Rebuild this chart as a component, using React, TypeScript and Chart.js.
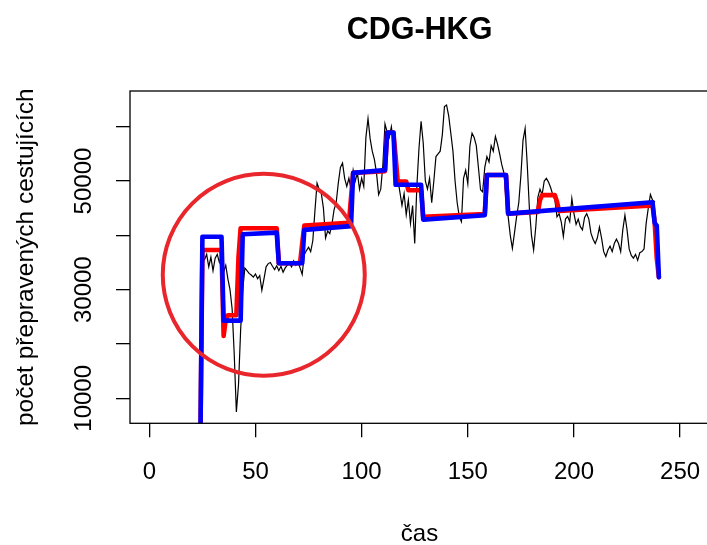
import React, { useEffect, useRef } from 'react';
import { Chart, registerables } from 'chart.js';

Chart.register(...registerables);

const chartTitle = 'CDG-HKG';
const xAxisTitle = 'čas';
const yAxisTitle = 'počet přepravených cestujících';

const xTickValues = [0, 50, 100, 150, 200, 250];
const yTickValues = [10000, 20000, 30000, 40000, 50000, 60000];
const yTickLabels = ['10000', '', '30000', '', '50000', ''];

const xMin = -9.1;
const xMax = 263.6;
const yMin = 5398;
const yMax = 66572;

// observed passengers (black), one value per time step starting at observedStart
const observedStart = 25;
const observed = [
  36000, 35500, 36500, 34200, 36000, 33500, 35800, 36500, 35000, 36400,
  33300, 34500, 32000, 30000, 26500, 18000, 7500, 12500, 22500, 30000,
  34000, 33500, 33000, 32700, 32300, 32900, 32000, 32600, 29900, 32000,
  34200, 34800, 35000, 34300, 33700, 34400, 33500, 34300, 33200, 34000,
  34500, 34800, 34200, 35300, 34500, 35200, 34000, 32800, 36500, 37200,
  37800, 37000, 39000, 44500, 49600, 48500, 47700, 45000, 39500, 40800,
  40300, 42000, 44700, 46000, 49600, 52500, 53300, 50500, 49000, 50500,
  48500, 52000, 50000, 51500, 48500, 50500, 49000, 58000, 61500, 57800,
  55500, 54000, 51500, 47500, 48500, 53000, 60500, 59000, 58000, 60000,
  57000, 54000, 50500, 48000, 45500, 47700, 43800, 46500, 42200, 45500,
  38500, 49000, 56000, 61000, 57000, 50000, 48500, 50500, 46000, 50000,
  54500, 55000, 55500, 58500, 63700, 64000, 62000, 58800, 55500, 50000,
  46000, 43400, 42500, 50500, 52000, 49500, 56500, 58800, 58000, 56500,
  52500, 48400, 48000, 52500, 54500, 53500, 56500, 55500, 58200, 56800,
  55000, 53000, 51500, 47000, 43500, 40000, 37600, 40500, 43500, 46000,
  51000, 57500, 59700, 53000, 45000, 40000, 37300, 41500, 47000, 48500,
  47500, 50000, 50500, 49800, 48800, 47500, 46500, 43400, 44000, 42500,
  39800, 43000, 43500, 42500, 46800, 44000, 42000, 43000, 41600, 41000,
  43300, 44000, 43000, 40400, 39300, 38500, 39500, 41500, 39500, 37000,
  36100, 37300, 38000, 37000, 38500, 39300, 38500, 37000, 41000, 43700,
  41000, 37500, 36300, 35800, 36500, 35400, 36800, 37000, 37500, 42200,
  45000, 47500, 46500, 46200,
];

// red model (breakpoints)
const redTimes = [24, 25, 34, 35, 36, 37, 41, 42, 43, 60, 61, 71, 72, 73, 94, 95, 96, 111, 112, 115, 116, 117, 121, 122, 128, 129, 158, 159, 168, 169, 183, 184, 185, 191, 192, 193, 237, 238, 239, 240];
const redValues = [0, 37300, 37300, 21500, 24500, 25300, 25300, 36000, 41300, 41300, 34850, 34850, 38500, 41800, 42300, 47000, 51500, 51800, 58900, 58900, 54500, 49900, 49900, 48300, 48300, 43400, 43900, 51100, 51100, 44000, 44300, 46500, 47400, 47400, 46200, 44500, 45500, 42500, 35800, 32300];

// blue model (breakpoints)
const blueTimes = [24, 25, 34, 35, 43, 44, 60, 61, 72, 73, 95, 96, 111, 112, 115, 116, 128, 129, 158, 159, 168, 169, 237, 238, 239, 240];
const blueValues = [0, 39750, 39750, 24300, 24300, 40200, 40500, 34850, 34850, 41000, 41700, 51500, 52000, 58900, 58900, 49300, 49300, 42900, 43700, 51100, 51100, 44000, 46100, 42300, 41800, 32300];

// highlighted region (circle annotation)
const circleTimes = [53.9];
const circleValues = [32750];

const FONT = "'Liberation Sans', Arial, Helvetica, sans-serif";

const framePlugin = {
  id: 'rframe',
  afterDraw(chart: any) {
    const { ctx, chartArea: a, scales } = chart;
    ctx.save();
    ctx.strokeStyle = '#000';
    ctx.lineWidth = 1.3;
    ctx.strokeRect(a.left, a.top, a.right - a.left, a.bottom - a.top);
    ctx.fillStyle = '#000';
    ctx.font = `24px ${FONT}`;
    ctx.textAlign = 'center';
    ctx.textBaseline = 'alphabetic';
    yTickValues.forEach((v, i) => {
      const label = yTickLabels[i];
      if (!label) return;
      const py = scales.y.getPixelForValue(v);
      ctx.save();
      ctx.translate(a.left - 39.5, py);
      ctx.rotate(-Math.PI / 2);
      ctx.fillText(label, 0, 0);
      ctx.restore();
    });
    ctx.restore();
  },
};

export default function App() {
  const ref = useRef<HTMLCanvasElement>(null);

  useEffect(() => {
    const canvas = ref.current;
    if (!canvas) return;
    const lineCommon = {
      type: 'line' as const,
      pointRadius: 0,
      tension: 0,
      fill: false,
      clip: 0,
      borderJoinStyle: 'round' as const,
      borderCapStyle: 'round' as const,
    };
    const chart = new Chart(canvas, {
      type: 'line',
      data: {
        datasets: [
          {
            type: 'scatter',
            data: circleTimes.map((t, i) => ({ x: t, y: circleValues[i] })),
            pointRadius: 101,
            pointHoverRadius: 101,
            borderWidth: 4,
            borderColor: '#E8262B',
            backgroundColor: 'rgba(0,0,0,0)',
            pointStyle: 'circle',
            clip: false,
          } as any,
          {
            ...lineCommon,
            data: blueTimes.map((t, i) => ({ x: t, y: blueValues[i] })),
            borderColor: '#0000FF',
            borderWidth: 4.6,
          },
          {
            ...lineCommon,
            data: redTimes.map((t, i) => ({ x: t, y: redValues[i] })),
            borderColor: '#FF0000',
            borderWidth: 4.6,
          },
          {
            ...lineCommon,
            data: observed.map((v, i) => ({ x: observedStart + i, y: v })),
            borderColor: '#000000',
            borderWidth: 1.2,
            borderJoinStyle: 'miter',
          },
        ],
      },
      options: {
        responsive: false,
        animation: false,
        events: [],
        layout: { autoPadding: false, padding: { left: 0, top: 0, right: 11, bottom: 0 } },
        plugins: {
          legend: { display: false },
          tooltip: { enabled: false },
          title: {
            display: true,
            text: chartTitle,
            fullSize: false,
            color: '#000',
            font: { family: FONT, size: 30.5, weight: 'bold', lineHeight: 1.2 },
            padding: { top: 12.7, bottom: 41.7 },
          },
        },
        scales: {
          x: {
            type: 'linear',
            min: xMin,
            max: xMax,
            afterBuildTicks: (scale: any) => {
              scale.ticks = xTickValues.map((v) => ({ value: v }));
            },
            afterFit: (scale: any) => {
              scale.height = 560 - 423.3;
              scale.paddingLeft = 0;
              scale.paddingRight = 0;
            },
            ticks: {
              autoSkip: false,
              maxRotation: 0,
              minRotation: 0,
              padding: 21,
              color: '#000',
              font: { family: FONT, size: 24, lineHeight: 1.2 },
              callback: (v: any) => String(v),
            },
            grid: {
              display: true,
              drawOnChartArea: false,
              drawTicks: true,
              tickLength: 14,
              tickColor: '#000',
              lineWidth: 1.3,
            },
            border: { display: false },
            title: {
              display: true,
              text: xAxisTitle,
              color: '#000',
              font: { family: FONT, size: 24, lineHeight: 1.2 },
              padding: { top: 0, bottom: 10.9 },
            },
          },
          y: {
            type: 'linear',
            min: yMin,
            max: yMax,
            afterBuildTicks: (scale: any) => {
              scale.ticks = yTickValues.map((v) => ({ value: v }));
            },
            afterFit: (scale: any) => {
              scale.width = 130;
              scale.paddingTop = 0;
              scale.paddingBottom = 0;
            },
            ticks: {
              autoSkip: false,
              color: '#000',
              font: { family: FONT, size: 24 },
              callback: () => '',
            },
            grid: {
              display: true,
              drawOnChartArea: false,
              drawTicks: true,
              tickLength: 14,
              tickColor: '#000',
              lineWidth: 1.3,
            },
            border: { display: false },
            title: {
              display: true,
              text: yAxisTitle,
              color: '#000',
              font: { family: FONT, size: 24.5, lineHeight: 1.2 },
              padding: { top: 11.3, bottom: 0 },
            },
          },
        },
      },
      plugins: [framePlugin],
    } as any);
    return () => chart.destroy();
  }, []);

  return (
    <div
      style={{
        position: 'fixed',
        left: 0,
        top: 0,
        width: 707,
        height: 545,
        overflow: 'hidden',
        background: '#fff',
      }}
    >
      <canvas ref={ref} width={720} height={560} style={{ display: 'block' }} />
    </div>
  );
}
